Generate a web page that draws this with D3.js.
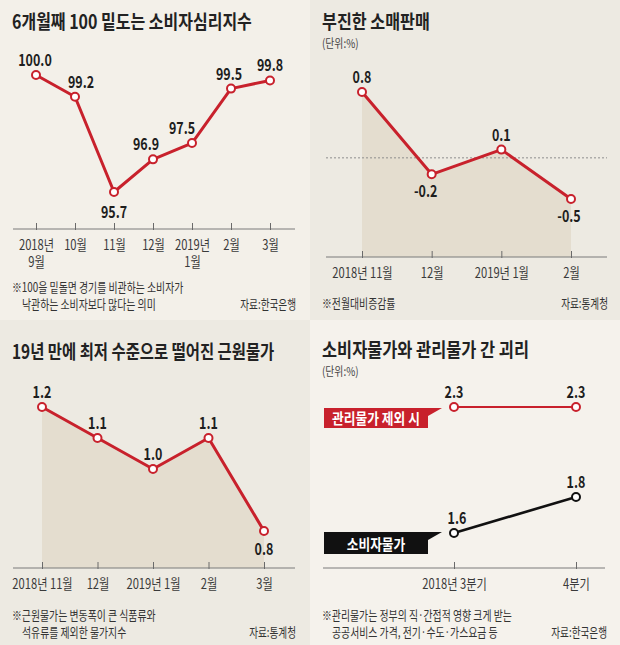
<!DOCTYPE html>
<html><head><meta charset="utf-8">
<script src="https://cdn.jsdelivr.net/npm/d3@7"></script>
<style>html,body{margin:0;padding:0;background:#fff}svg{display:block}</style>
</head><body>
<script>
// ---------------- DATA ----------------
const sentimentMonths = ["2018년\n9월", "10월", "11월", "12월", "2019년\n1월", "2월", "3월"];
const sentimentValues = [100.0, 99.2, 95.7, 96.9, 97.5, 99.5, 99.8];

const retailMonths = ["2018년 11월", "12월", "2019년 1월", "2월"];
const retailValues = [0.8, -0.2, 0.1, -0.5];

const coreMonths = ["2018년 11월", "12월", "2019년 1월", "2월", "3월"];
const coreValues = [1.2, 1.1, 1.0, 1.1, 0.8];

const cpiQuarters = ["2018년 3분기", "4분기"];
const cpiExAdminValues = [2.3, 2.3];
const cpiValues = [1.6, 1.8];

const titles = ["6개월째 100 밑도는 소비자심리지수", "부진한 소매판매", "19년 만에 최저 수준으로 떨어진 근원물가", "소비자물가와 관리물가 간 괴리"];
const unitLabel = "(단위:%)";
const notes1 = ["※100을 밑돌면 경기를 비관하는 소비자가", "낙관하는 소비자보다 많다는 의미"];
const notes2 = ["※전월대비증감률"];
const notes3 = ["※근원물가는 변동폭이 큰 식품류와", "석유류를 제외한 물가지수"];
const notes4 = ["※관리물가는 정부의 직·간접적 영향 크게 받는", "공공서비스 가격, 전기·수도·가스요금 등"];
const sources = ["자료:한국은행", "자료:통계청", "자료:통계청", "자료:한국은행"];
const seriesNames = ["관리물가 제외 시", "소비자물가"];

// ---------------- STYLE ----------------
const FONT = "'Noto Sans CJK KR','Noto Sans',sans-serif";
const RED = "#c8212c";
const W = 620, H = 645;
const fmt = v => d3.format(".1f")(v).replace("−", "-");

const svg = d3.select("body").append("svg").attr("width", W).attr("height", H);

// panel backgrounds
const bgs = [
  {x: 0, y: 0, w: 310, h: 320, c: "#f3f0e9"},
  {x: 310, y: 0, w: 310, h: 320, c: "#edeae2"},
  {x: 0, y: 320, w: 310, h: 325, c: "#edeae2"},
  {x: 310, y: 320, w: 310, h: 325, c: "#f5f2ec"}
];
svg.selectAll("rect.bg").data(bgs).join("rect").attr("class", "bg")
  .attr("x", d => d.x).attr("y", d => d.y).attr("width", d => d.w).attr("height", d => d.h)
  .attr("fill", d => d.c);

function T(g, x, y, s, o = {}) {
  const size = o.size || 13, sx = o.sx || 0.78;
  return g.append("text")
    .attr("transform", `translate(${x},${y}) scale(${sx},1)`)
    .attr("text-anchor", o.anchor || "start")
    .attr("font-family", FONT)
    .attr("font-size", size)
    .attr("font-weight", o.weight || 400)
    .attr("fill", o.fill || "#333")
    .text(s);
}

function axis(g, x, axisY, x0, x1) {
  g.append("line").attr("x1", x0).attr("x2", x1).attr("y1", axisY).attr("y2", axisY)
    .attr("stroke", "#7a7a7a").attr("stroke-width", 1);
  const ax = g.append("g").attr("transform", `translate(0,${axisY})`)
    .call(d3.axisBottom(x).tickSizeInner(-6).tickSizeOuter(0).tickPadding(11));
  ax.select(".domain").remove();
  ax.selectAll(".tick line").attr("stroke", "#6a6a6a").attr("y2", -6).attr("y1", 1);
  ax.selectAll(".tick text").each(function (d) {
    const t = d3.select(this);
    t.text(null).attr("font-family", FONT).attr("font-size", 14).attr("fill", "#3a3a3a")
      .attr("transform", "scale(0.8,1)");
    d.split("\n").forEach((line, i) => {
      t.append("tspan").attr("x", 0).attr("dy", i === 0 ? "0.71em" : "1.25em").text(line);
    });
  });
}

function series(g, x, y, cats, vals, o) {
  const pts = cats.map((c, i) => [x(c), y(vals[i])]);
  g.append("path").datum(pts)
    .attr("d", d3.line().x(d => d[0]).y(d => d[1]))
    .attr("fill", "none").attr("stroke", o.color).attr("stroke-width", o.width)
    .attr("stroke-linejoin", "round");
  g.selectAll(null).data(pts).join("circle")
    .attr("cx", d => d[0]).attr("cy", d => d[1]).attr("r", o.r || 4)
    .attr("fill", "#fff").attr("stroke", o.color).attr("stroke-width", 2);
  pts.forEach((p, i) => {
    const pos = o.place[i], nd = (o.nudge && o.nudge[i]) || 0;
    const yy = pos === "down" ? p[1] + (o.down || 25) : p[1] - 9;
    T(g, p[0] + nd, yy, fmt(vals[i]), {size: 16, weight: 700, fill: "#1e1e1e", anchor: "middle", sx: 0.78});
  });
}

function notes(g, lines, x0, x1, y0, src) {
  lines.forEach((l, i) => T(g, i === 0 ? x0 : x0 + 10, y0 + i * 17, l, {size: 13, fill: "#333", sx: 0.76}));
  T(g, x1, y0 + (lines.length - 1) * 17, src, {size: 13, fill: "#333", anchor: "end", sx: 0.74});
}

const titleStyle = {size: 19.5, weight: 700, fill: "#222"};

// ---------------- PANEL 1 ----------------
{
  const g = svg.append("g");
  T(g, 12, 29, titles[0], {...titleStyle, sx: 0.82});
  const x = d3.scalePoint().domain(sentimentMonths).range([36, 270]);
  const y = d3.scaleLinear().domain(d3.extent(sentimentValues)).range([192, 75]);
  axis(g, x, 229, 13, 295);
  series(g, x, y, sentimentMonths, sentimentValues, {
    color: RED, width: 3, r: 4,
    place: ["up", "up", "down", "up", "up", "up", "up"],
    nudge: [-1, 6, 0, -7, -10, -2, 0], down: 26
  });
  notes(g, notes1, 12, 296, 292, sources[0]);
}

// ---------------- PANEL 2 ----------------
{
  const g = svg.append("g");
  T(g, 322, 29, titles[1], {...titleStyle, sx: 0.83});
  T(g, 322, 48, unitLabel, {size: 12, fill: "#444", sx: 0.82});
  const x = d3.scalePoint().domain(retailMonths).range([362, 571]);
  const y = d3.scaleLinear().domain(d3.extent(retailValues)).range([199, 92]);
  const axisY = 257;
  const area = g.append("g");
  g.append("line").attr("x1", 326).attr("x2", 607).attr("y1", y(0)).attr("y2", y(0))
    .attr("stroke", "#8d8d8d").attr("stroke-width", 1).attr("stroke-dasharray", "2,2");
  axis(g, x, axisY, 326, 607);
  const pts = retailMonths.map((c, i) => [x(c), y(retailValues[i])]);
  area.append("path").datum(pts).attr("d", d3.area().x(d => d[0]).y0(axisY).y1(d => d[1]))
    .attr("fill", "#e4ddcf");
  series(g, x, y, retailMonths, retailValues, {
    color: RED, width: 3, r: 4,
    place: ["up", "down", "up", "down"], nudge: [0, -6, 0, -2], down: 23
  });
  notes(g, notes2, 322, 608, 308, sources[1]);
}

// ---------------- PANEL 3 ----------------
{
  const g = svg.append("g");
  T(g, 12, 359, titles[2], {...titleStyle, sx: 0.79});
  const x = d3.scalePoint().domain(coreMonths).range([42, 264]);
  const y = d3.scaleLinear().domain(d3.extent(coreValues)).range([531, 407]);
  const axisY = 568;
  const area = g.append("g");
  axis(g, x, axisY, 13, 295);
  const pts = coreMonths.map((c, i) => [x(c), y(coreValues[i])]);
  area.append("path").datum(pts).attr("d", d3.area().x(d => d[0]).y0(axisY).y1(d => d[1]))
    .attr("fill", "#e4ddcf");
  series(g, x, y, coreMonths, coreValues, {
    color: RED, width: 3, r: 4,
    place: ["up", "up", "up", "up", "down"], nudge: [0, 0, 0, 0, 0], down: 24
  });
  notes(g, notes3, 12, 296, 620, sources[2]);
}

// ---------------- PANEL 4 ----------------
{
  const g = svg.append("g");
  T(g, 322, 357, titles[3], {...titleStyle, sx: 0.84});
  T(g, 322, 376, unitLabel, {size: 12, fill: "#444", sx: 0.82});
  const x = d3.scalePoint().domain(cpiQuarters).range([454, 576]);
  const y = d3.scaleLinear().domain([d3.min(cpiValues), d3.max(cpiExAdminValues)]).range([533, 407]);
  axis(g, x, 568, 323, 605);
  series(g, x, y, cpiQuarters, cpiExAdminValues, {
    color: RED, width: 2.2, r: 4, place: ["up", "up"], nudge: [0, 0]
  });
  series(g, x, y, cpiQuarters, cpiValues, {
    color: "#111", width: 2.6, r: 4, place: ["up", "up"], nudge: [3, 0]
  });
  // flag labels
  function flag(top, h, fill, label) {
    const x0 = 324, x1 = 428, tip = x(cpiQuarters[0]) - 12;
    const p = d3.path();
    p.moveTo(x0, top); p.lineTo(tip, top); p.lineTo(x1, top + 8);
    p.lineTo(x1, top + h); p.lineTo(x0, top + h); p.closePath();
    g.append("path").attr("d", p.toString()).attr("fill", fill);
    T(g, (x0 + x1) / 2, top + h - 4.5, label, {size: 15, weight: 700, fill: "#fff", anchor: "middle", sx: 0.85});
  }
  flag(y(cpiExAdminValues[0]) + 1, 20, RED, seriesNames[0]);
  flag(y(cpiValues[0]) - 1, 22, "#111", seriesNames[1]);
  notes(g, notes4, 322, 607, 620, sources[3]);
}
</script>
</body></html>
